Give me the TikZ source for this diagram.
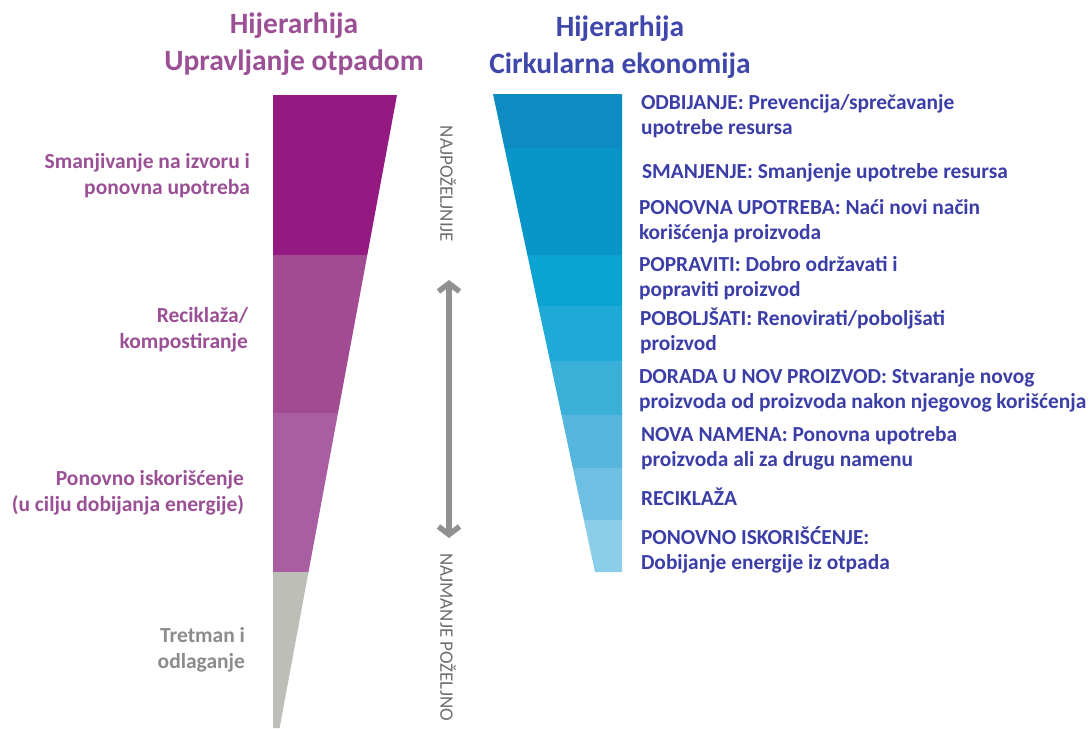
\documentclass[tikz,border=0pt]{standalone}
\usepackage{fontspec}
\setmainfont{Carlito}
\usetikzlibrary{arrows.meta}
\definecolor{lbA}{RGB}{148,25,128}
\definecolor{lbB}{RGB}{162,75,146}
\definecolor{lbC}{RGB}{170,94,162}
\definecolor{lbD}{RGB}{190,190,185}
\definecolor{rbA}{RGB}{12,140,192}
\definecolor{rbB}{RGB}{8,150,200}
\definecolor{rbC}{RGB}{10,163,210}
\definecolor{rbD}{RGB}{30,170,214}
\definecolor{rbE}{RGB}{58,176,216}
\definecolor{rbF}{RGB}{86,182,220}
\definecolor{rbG}{RGB}{110,192,226}
\definecolor{rbH}{RGB}{140,205,232}
\definecolor{purpletxt}{RGB}{155,80,150}
\definecolor{bluetxt}{RGB}{60,62,168}
\definecolor{titleblue}{RGB}{63,72,170}
\definecolor{greytxt}{RGB}{140,140,140}
\definecolor{midtxt}{RGB}{110,110,110}
\definecolor{arrowgrey}{RGB}{145,145,145}
\newcommand{\myL}[1]{\begin{tabular}[t]{@{}l@{}}#1\end{tabular}}
\newcommand{\myR}[1]{\begin{tabular}[t]{@{}r@{}}#1\end{tabular}}
\newcommand{\myC}[1]{\begin{tabular}[t]{@{}c@{}}#1\end{tabular}}
\begin{document}
\begin{tikzpicture}[x=1pt,y=-1pt,
  every node/.style={inner sep=0pt,outer sep=0pt},
  ttl/.style={font=\fontsize{29.5}{37}\selectfont\bfseries,anchor=base},
  llab/.style={font=\fontsize{21.5}{26}\selectfont\bfseries,text=purpletxt,anchor=base east},
  rlab/.style={font=\fontsize{21.4}{25.5}\selectfont\bfseries,text=bluetxt,anchor=base west},
  vlab/.style={font=\fontsize{19}{23}\selectfont,text=midtxt,rotate=-90,anchor=center},
  dblarrow/.style={draw=arrowgrey,line width=5.5pt,
    {Straight Barb[length=8pt,width=21pt]}-{Straight Barb[length=8pt,width=21pt]}}
]
\useasboundingbox (0,0) rectangle (1091,728);
\fill[white] (0,0) rectangle (1091,728);

% left funnel
\fill[lbA] (273,95) -- (397,95) -- (367.3,255) -- (273,255) -- cycle;
\fill[lbB] (273,255) -- (367.3,255) -- (338.0,413) -- (273,413) -- cycle;
\fill[lbC] (273,413) -- (338.0,413) -- (308.5,572) -- (273,572) -- cycle;
\fill[lbD] (273,572) -- (308.5,572) -- (279.6,728) -- (273,728) -- cycle;

% right funnel
\fill[rbA] (493,94) -- (622,94) -- (622,148) -- (504.5,148) -- cycle;
\fill[rbB] (504.5,148) -- (622,148) -- (622,255) -- (527.4,255) -- cycle;
\fill[rbC] (527.4,255) -- (622,255) -- (622,306) -- (538.2,306) -- cycle;
\fill[rbD] (538.2,306) -- (622,306) -- (622,361) -- (550.0,361) -- cycle;
\fill[rbE] (550.0,361) -- (622,361) -- (622,415) -- (561.5,415) -- cycle;
\fill[rbF] (561.5,415) -- (622,415) -- (622,468) -- (572.8,468) -- cycle;
\fill[rbG] (572.8,468) -- (622,468) -- (622,520) -- (583.9,520) -- cycle;
\fill[rbH] (583.9,520) -- (622,520) -- (622,572) -- (595.0,572) -- cycle;

% titles
\node[ttl,text=purpletxt] (ltitle) at (294,33) {\myC{Hijerarhija\\Upravljanje otpadom}};
\node[ttl,text=titleblue] (rtitle) at (620,36) {\myC{Hijerarhija\\Cirkularna ekonomija}};

% left labels
\node[llab] (l1) at (250,168) {\myR{Smanjivanje na izvoru i\\ponovna upotreba}};
\node[llab] (l2) at (248,322) {\myR{Reciklaža/\\kompostiranje}};
\node[llab] (l3) at (244,485) {\myR{Ponovno iskorišćenje\\(u cilju dobijanja energije)}};
\node[llab,text=greytxt] (l4) at (245,642) {\myR{Tretman i\\odlaganje}};

% middle
\node[vlab] (most) at (448,184) {NAJPOŽELJNIJE};
\node[vlab] (least) at (448,637) {NAJMANJE POŽELJNO};
\coordinate (arrtop) at (449,280);
\coordinate (arrbot) at (449,538);
\draw[dblarrow] (arrtop) -- (arrbot);

% right labels
\node[rlab] (r1) at (641,109) {\myL{ODBIJANJE: Prevencija/sprečavanje\\upotrebe resursa}};
\node[rlab] (r2) at (642,178) {SMANJENJE: Smanjenje upotrebe resursa};
\node[rlab] (r3) at (639,214) {\myL{PONOVNA UPOTREBA: Naći novi način\\korišćenja proizvoda}};
\node[rlab] (r4) at (639,271) {\myL{POPRAVITI: Dobro održavati i\\popraviti proizvod}};
\node[rlab] (r5) at (640,325) {\myL{POBOLJŠATI: Renovirati/poboljšati\\proizvod}};
\node[rlab] (r6) at (639,383) {\myL{DORADA U NOV PROIZVOD: Stvaranje novog\\proizvoda od proizvoda nakon njegovog korišćenja}};
\node[rlab] (r7) at (641,441) {\myL{NOVA NAMENA: Ponovna upotreba\\proizvoda ali za drugu namenu}};
\node[rlab] (r8) at (641,505) {RECIKLAŽA};
\node[rlab] (r9) at (641,544) {\myL{PONOVNO ISKORIŠĆENJE:\\Dobijanje energije iz otpada}};
\end{tikzpicture}
\end{document}
